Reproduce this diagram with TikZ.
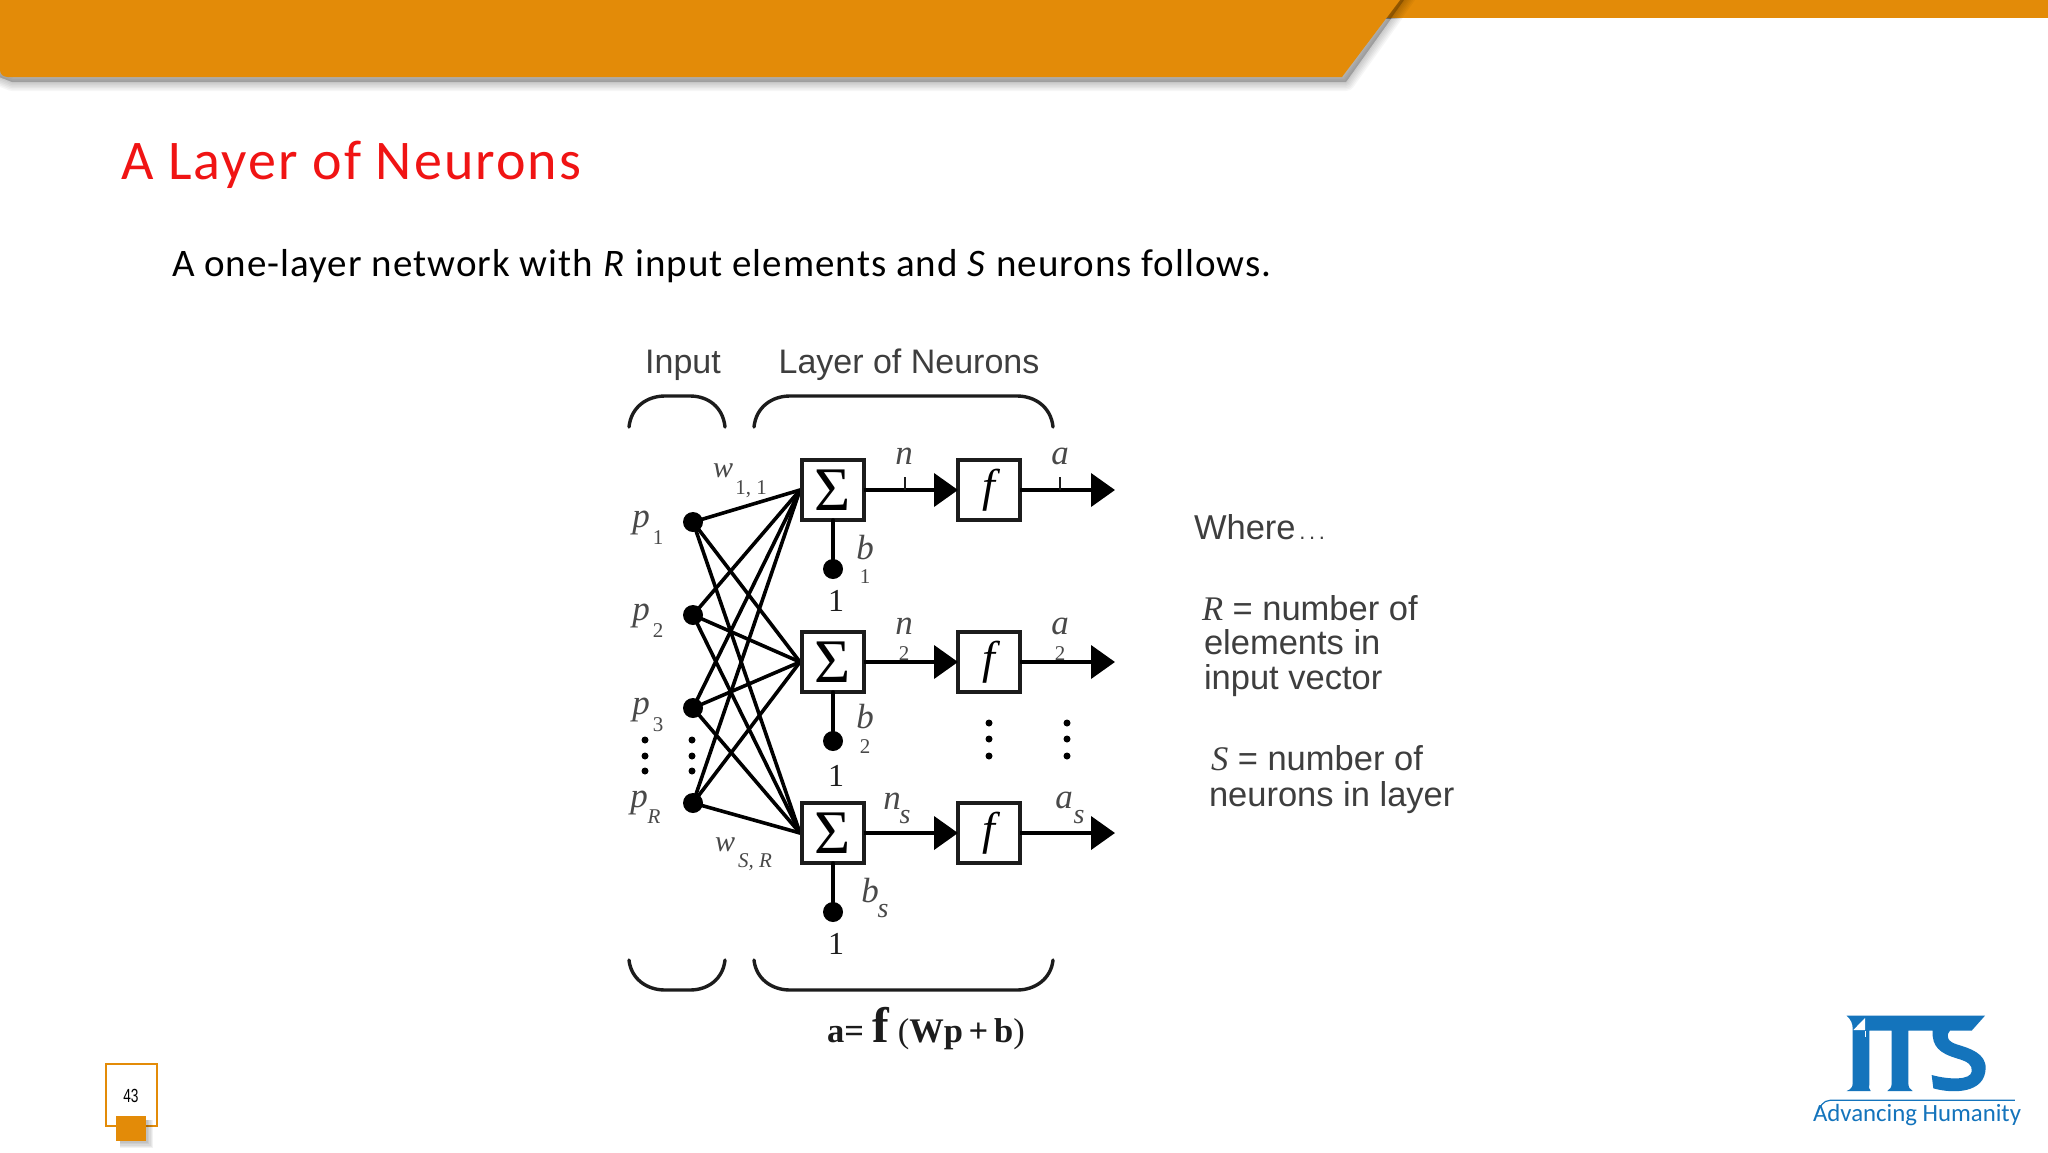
\documentclass[tikz,border=0pt]{standalone}
\usepackage{fontspec}
\setmainfont{Lato}
\newfontfamily\arl{Liberation Sans}
\newfontfamily\ser{Liberation Serif}
\newfontfamily\gil{Carlito}
\usetikzlibrary{arrows.meta,shapes.geometric}
\definecolor{band}{HTML}{E38B08}
\definecolor{itsblue}{HTML}{1474BC}
\definecolor{ink}{HTML}{1C1C1C}
\newcommand{\fs}[1]{\fontsize{#1}{#1}\selectfont}
\newcommand{\softshadow}[2]{%
  \foreach \k in {1,...,6}{\path[draw=black,fill=black,draw opacity=.035,fill opacity=.04,line width=\k*3pt,line join=round,shift={#1}] #2;}}
\tikzset{
  every node/.style={inner sep=0pt,outer sep=0pt},
  wire/.style={line width=3.6pt,draw=black,line cap=round},
  flow/.style={line width=4pt,draw=black,-{Triangle[length=24pt,width=33pt]}},
  sumbox/.style={draw=ink,line width=4pt,fill=white,minimum width=62pt,minimum height=60pt,font=\ser\fs{62}},
  fbox/.style={draw=ink,line width=4pt,fill=white,minimum width=62pt,minimum height=60pt,font=\ser\itshape\fs{46}},
  dotn/.style={circle,fill=black,minimum size=20pt},
  smalldot/.style={circle,fill=black,minimum size=7pt},
  lab/.style={font=\ser\itshape\fs{35},text=ink!80},
  sub/.style={font=\ser\itshape\fs{21},text=ink!80},
  one/.style={font=\ser\fs{32},text=ink},
  hdr/.style={font=\arl\fs{34},text=ink!85,anchor=base},
  note/.style={font=\arl\fs{34.5},text=ink!85,anchor=base west},
  brace/.style={line width=3.4pt,draw=ink,line cap=round},
  tick/.style={line width=2pt,draw=ink}
}
\begin{document}
\begin{tikzpicture}[x=1pt,y=-1pt]
\useasboundingbox (0,0) rectangle (2048,1152);
\fill[white] (0,0) rectangle (2048,1152);
% banner
\def\bannerpoly{(-10,-10) -- (1404,-10) -- (1342,77) -- (8,77) -- (-10,70) -- cycle}
\softshadow{(4,5)}{\bannerpoly}
\fill[band] (1380,0) rectangle (2048,18);
\begin{scope}
\clip (1370,0) rectangle (1440,18);
\softshadow{(5,3)}{\bannerpoly}
\end{scope}
\fill[band] (0,0) -- (1400,0) -- (1342,77) -- (8,77) .. controls (3,77) and (0,74) .. (0,70) -- cycle;
% title
\node[anchor=base west,font=\gil\addfontfeature{LetterSpace=3.7}\fs{56},text={rgb,255:red,240;green,20;blue,20}] (title) at (121,179) {A Layer of Neurons};
\node[anchor=base west,font=\gil\addfontfeature{LetterSpace=2.6}\fs{39},text=black] (subtitle) at (172,276) {A one-layer network with \textit{R} input elements and \textit{S} neurons follows.};
% headers
\node[hdr] (hinput) at (683,373) {Input};
\node[hdr] (hlayer) at (909,373) {Layer of Neurons};
% braces
\draw[brace] (629,427) .. controls (631,407) and (647,396) .. (665,396) -- (690,396) .. controls (708,396) and (723,407) .. (725,427);
\draw[brace] (754,427) .. controls (756,407) and (772,396) .. (790,396) -- (1017,396) .. controls (1035,396) and (1051,407) .. (1053,427);
\draw[brace] (629,960) .. controls (631,979) and (647,990) .. (665,990) -- (690,990) .. controls (708,990) and (723,979) .. (725,960);
\draw[brace] (754,960) .. controls (756,979) and (772,990) .. (790,990) -- (1017,990) .. controls (1035,990) and (1051,979) .. (1053,960);
% inputs
\node[dotn] (p1) at (693,522) {};
\node[dotn] (p2) at (693,615) {};
\node[dotn] (p3) at (693,708) {};
\node[dotn] (p4) at (693,803) {};
% boxes
\coordinate (j1) at (800,490);
\coordinate (j2) at (800,662);
\coordinate (j3) at (800,833);
\node[dotn] (b1) at (833,569) {};
\node[dotn] (b2) at (833,741) {};
\node[dotn] (b3) at (833,912) {};
\foreach \i in {1,2,3,4}{\foreach \j in {1,2,3}{\draw[wire] (p\i.center) -- (j\j);}}
\node[sumbox] (s1) at (833,490) {Σ};
\node[sumbox] (s2) at (833,662) {Σ};
\node[sumbox] (s3) at (833,833) {Σ};
\node[fbox] (f1) at (989,490) {f};
\node[fbox] (f2) at (989,662) {f};
\node[fbox] (f3) at (989,833) {f};
\coordinate (o1) at (1115,490);
\coordinate (o2) at (1115,662);
\coordinate (o3) at (1115,833);
\foreach \j in {1,2,3}{
  \draw[wire] (s\j) -- (b\j);
  \draw[flow] (s\j) -- (f\j);
  \draw[flow] (f\j) -- (o\j);
}
% ticks
\coordinate (t1) at (905,490);
\coordinate (t2) at (1060,490);
\draw[tick] (t1) -- ++(0,-13);
\draw[tick] (t2) -- ++(0,-13);
% ellipsis dots
\foreach \n/\x/\y in {a/645/740,b/645/756,c/645/771,d/692/740,e/692/756,f/692/771,g/989/723,h/989/739,i/989/756,k/1067/723,l/1067/739,m/1067/756}{
  \node[smalldot] (dot\n) at (\x,\y) {};
}
% input labels
\node[lab] (lp1) at (641,523) {p};
\node[sub,font=\ser\fs{21}] (sp1) at (658,538) {1};
\node[lab] (lp2) at (641,616) {p};
\node[sub,font=\ser\fs{21}] (sp2) at (658,631) {2};
\node[lab] (lp3) at (641,710) {p};
\node[sub,font=\ser\fs{21}] (sp3) at (658,725) {3};
\node[lab] (lp4) at (639,803) {p};
\node[sub] (sp4) at (654,817) {R};
% weights
\node[lab,font=\ser\itshape\fs{30}] (w1) at (723,471) {w};
\node[sub,font=\ser\fs{21}] (sw1) at (751,489) {1, 1};
\node[lab,font=\ser\itshape\fs{30}] (w2) at (725,845) {w};
\node[sub] (sw2) at (755,862) {S, R};
% n, a labels
\node[lab] (n1) at (904,456) {n};
\node[lab] (a1) at (1060,456) {a};
\node[lab] (n2) at (904,626) {n};
\node[sub,font=\ser\fs{21}] (sn2) at (904,654) {2};
\node[lab] (a2) at (1060,626) {a};
\node[sub,font=\ser\fs{21}] (sa2) at (1060,654) {2};
\node[lab] (n3) at (892,801) {n};
\node[lab,font=\ser\itshape\fs{28}] (sn3) at (905,817) {s};
\node[lab] (a3) at (1064,800) {a};
\node[lab,font=\ser\itshape\fs{28}] (sa3) at (1079,817) {s};
% b labels
\node[lab] (lb1) at (865,548) {b};
\node[sub,font=\ser\fs{21}] (sb1) at (865,577) {1};
\node[lab] (lb2) at (865,717) {b};
\node[sub,font=\ser\fs{21}] (sb2) at (865,747) {2};
\node[lab] (lb3) at (870,891) {b};
\node[lab,font=\ser\itshape\fs{28}] (sb3) at (883,911) {s};
\node[one] (u1) at (836,601) {1};
\node[one] (u2) at (836,776) {1};
\node[one] (u3) at (836,944) {1};
% formula
\node[anchor=base west,font=\ser\bfseries\fs{34.5},text=ink] (formula) at (827,1042) {a= {\fs{50}f} {\mdseries(}Wp\,+\,b{\mdseries)}};
% notes
\node[note] (where) at (1194,539) {Where{\fs{22}\,.\,.\,.}};
\node[note] (n1a) at (1202,620) {{\ser\itshape R} = number of};
\node[note] (n1b) at (1204,654) {elements in};
\node[note] (n1c) at (1204,689) {input vector};
\node[note] (n2a) at (1211,770) {{\ser\itshape S} = number of};
\node[note] (n2b) at (1209,806) {neurons in layer};
% page number
\draw[band,line width=2pt,fill=white] (106,1064) rectangle (157,1126);
\node[font=\arl\fs{19},text=black] (pg) at (131,1096) {\scalebox{.72}[1]{43}};
\foreach \k in {1,...,5}{\fill[black,opacity=.05] (120,1120) rectangle ({146+1+\k*1.2},{1141+1+\k*1.2});}
\fill[band] (116,1116) rectangle (146,1141);
% logo
\begin{scope}[shift={(1780,990)},x=.3333pt,y=-.3333pt]
\fill[itsblue] (200,77) -- (615,77) -- (575,122) -- (510,122) .. controls (495,140) and (505,155) .. (530,163) .. controls (570,175) and (618,190) .. (617,235) .. controls (615,310) and (520,312) .. (460,295) -- (455,255) .. controls (510,270) and (572,270) .. (575,245) .. controls (578,225) and (565,215) .. (530,205) .. controls (480,190) and (455,170) .. (458,122) -- (385,122) -- (385,280) .. controls (385,292) and (390,298) .. (398,303) -- (322,303) .. controls (330,298) and (335,292) .. (335,280) -- (335,122) -- (268,122) -- (268,280) .. controls (268,292) and (265,298) .. (272,303) -- (200,303) .. controls (212,298) and (218,292) .. (218,280) -- (218,115) .. controls (218,100) and (212,88) .. (200,77) -- cycle;
\fill[white] (255,84) -- (220,120) -- (255,120) -- cycle;
\fill[white] (255,122) rectangle (258,140);
\draw[itsblue,line width=1.2pt] (705,331) -- (150,331) .. controls (130,331) and (118,350) .. (112,372);
\end{scope}
\node[anchor=base west,font=\gil\fs{24.8},text=itsblue] (slogan) at (1813,1121) {Advancing Humanity};
\end{tikzpicture}
\end{document}
